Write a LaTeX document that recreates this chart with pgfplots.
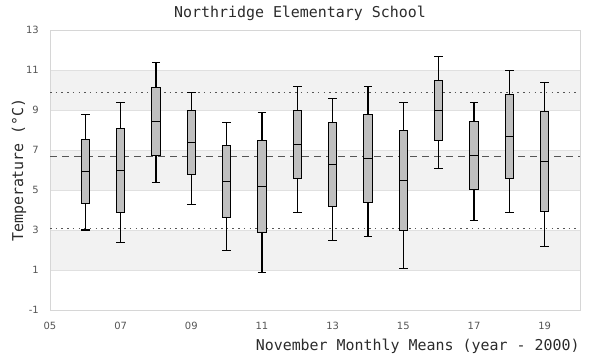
\documentclass[border=0pt]{standalone}
\usepackage{fontspec}
\setmainfont{DejaVu Sans}
\newfontfamily\mono{DejaVu Sans Mono}
\usepackage{pgfplots}
\pgfplotsset{compat=1.18}
\usepgfplotslibrary{statistics}
\definecolor{boxgray}{HTML}{BFBFBF}
\definecolor{bandgray}{HTML}{F2F2F2}
\definecolor{gridgray}{HTML}{E0E0E0}
\definecolor{framegray}{HTML}{D6D6D6}
\definecolor{refgray}{HTML}{555555}
\definecolor{labelgray}{HTML}{2B2B2B}
\definecolor{tickgray}{HTML}{555555}
\pgfplotsset{
  bx/.style={boxplot prepared={draw position=#1, box extend=0.24, whisker extend=0.24, draw direction=y},
    draw=black, fill=boxgray, line width=1.1bp, solid, mark=none},
}
\begin{document}
\begin{tikzpicture}
\begin{axis}[
  set layers,
  at={(0,0)}, anchor=south west,
  scale only axis, width=530bp, height=280bp,
  xmin=5, xmax=20, ymin=-1, ymax=13,
  xtick={5,7,9,11,13,15,17,19},
  xticklabels={05,07,09,11,13,15,17,19},
  ytick={-1,1,3,5,7,9,11,13},
  yticklabels={-1,1,3,5,7,9,11,13},
  major tick length=0pt,
  ymajorgrids, grid style={draw=gridgray, line width=0.8bp},
  axis line style={draw=framegray, line width=0.9bp},
  tick label style={font=\fontsize{10}{12}\selectfont, text=tickgray},
  xticklabel style={yshift=-8.4bp},
  yticklabel style={xshift=-7.7bp},
  title={Northridge Elementary School},
  title style={font=\mono\fontsize{15}{17}\selectfont, text=labelgray,
    at={(axis description cs:0.4717,1.0446)}, anchor=base, yshift=-6pt},
  xlabel={November Monthly Means (year - 2000)},
  xlabel style={font=\mono\fontsize{15}{17}\selectfont, text=labelgray,
    at={(axis description cs:1.006,-0.1429)}, anchor=base east},
  ylabel={Temperature (°C)},
  ylabel style={font=\mono\fontsize{15}{17}\selectfont, text=labelgray,
    at={(axis description cs:-0.0509,0.5)}, anchor=base, rotate=0},
]
% background bands
\addplot[on layer=axis background, fill=bandgray, draw=none] coordinates {(5,1) (20,1) (20,3) (5,3)} -- cycle;
\addplot[on layer=axis background, fill=bandgray, draw=none] coordinates {(5,5) (20,5) (20,7) (5,7)} -- cycle;
\addplot[on layer=axis background, fill=bandgray, draw=none] coordinates {(5,9) (20,9) (20,11) (5,11)} -- cycle;
% reference lines
\addplot[refgray, line width=0.9bp, dash pattern=on 1.5bp off 4.2bp] coordinates {(5,9.88) (20,9.88)};
\addplot[refgray, line width=0.9bp, dash pattern=on 7bp off 5bp] coordinates {(5,6.70) (20,6.70)};
\addplot[refgray, line width=0.9bp, dash pattern=on 1.5bp off 4.2bp] coordinates {(5,3.08) (20,3.08)};
% boxes
\addplot[bx=6,  boxplot prepared={lower whisker=3.00, lower quartile=4.33, median=5.93, upper quartile=7.53, upper whisker=8.79}] coordinates {};
\addplot[bx=7,  boxplot prepared={lower whisker=2.38, lower quartile=3.88, median=5.98, upper quartile=8.08, upper whisker=9.38}] coordinates {};
\addplot[bx=8,  boxplot prepared={lower whisker=5.38, lower quartile=6.73, median=8.43, upper quartile=10.13, upper whisker=11.38}] coordinates {};
\addplot[bx=9,  boxplot prepared={lower whisker=4.28, lower quartile=5.78, median=7.38, upper quartile=8.98, upper whisker=9.88}] coordinates {};
\addplot[bx=10, boxplot prepared={lower whisker=1.98, lower quartile=3.63, median=5.43, upper quartile=7.23, upper whisker=8.38}] coordinates {};
\addplot[bx=11, boxplot prepared={lower whisker=0.88, lower quartile=2.88, median=5.18, upper quartile=7.48, upper whisker=8.88}] coordinates {};
\addplot[bx=12, boxplot prepared={lower whisker=3.88, lower quartile=5.58, median=7.28, upper quartile=8.98, upper whisker=10.18}] coordinates {};
\addplot[bx=13, boxplot prepared={lower whisker=2.48, lower quartile=4.18, median=6.28, upper quartile=8.38, upper whisker=9.58}] coordinates {};
\addplot[bx=14, boxplot prepared={lower whisker=2.68, lower quartile=4.38, median=6.58, upper quartile=8.78, upper whisker=10.18}] coordinates {};
\addplot[bx=15, boxplot prepared={lower whisker=1.08, lower quartile=2.98, median=5.48, upper quartile=7.98, upper whisker=9.38}] coordinates {};
\addplot[bx=16, boxplot prepared={lower whisker=6.08, lower quartile=7.48, median=8.98, upper quartile=10.48, upper whisker=11.67}] coordinates {};
\addplot[bx=17, boxplot prepared={lower whisker=3.48, lower quartile=5.03, median=6.73, upper quartile=8.43, upper whisker=9.38}] coordinates {};
\addplot[bx=18, boxplot prepared={lower whisker=3.88, lower quartile=5.58, median=7.68, upper quartile=9.78, upper whisker=10.98}] coordinates {};
\addplot[bx=19, boxplot prepared={lower whisker=2.18, lower quartile=3.93, median=6.43, upper quartile=8.93, upper whisker=10.38}] coordinates {};
\end{axis}
\pgfresetboundingbox
\path[use as bounding box] (-50bp,-50bp) rectangle (550bp,310bp);
\end{tikzpicture}
\end{document}
